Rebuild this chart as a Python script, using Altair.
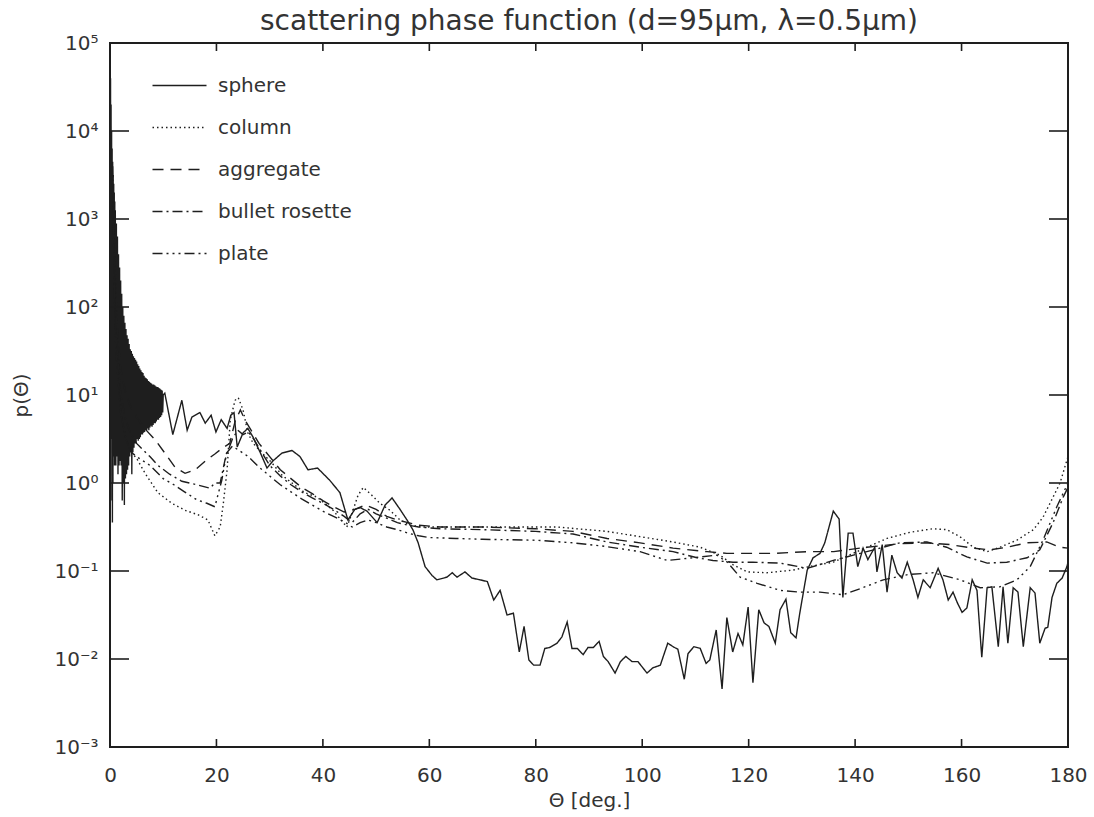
import altair as alt
import pandas as pd

# ---------------- data (log10 of p(theta)) ----------------
sphere_theta = [0.0, 0.05, 0.1, 0.15, 0.2, 0.25, 0.3, 0.35, 0.4, 0.45, 0.5, 0.55, 0.6, 0.65, 0.7,
                0.75, 0.8, 0.85, 0.9, 0.95,
                1.0, 1.1, 1.2, 1.3, 1.4, 1.5, 1.6, 1.7, 1.8, 1.9, 2.0, 2.1, 2.2, 2.3, 2.4, 2.5,
                2.6, 2.7, 2.8, 2.9, 3.0, 3.1, 3.2, 3.3, 3.4, 3.5, 3.6, 3.7, 3.8, 3.9, 4.0, 4.1,
                4.2, 4.3, 4.4, 4.5, 4.6, 4.7, 4.8, 4.9, 5.0, 5.1, 5.2, 5.3, 5.4, 5.5, 5.6, 5.7,
                5.8, 5.9, 6.0, 6.1, 6.2, 6.3, 6.4, 6.5, 6.6, 6.7, 6.8, 6.9, 7.0, 7.1, 7.2, 7.3,
                7.4, 7.5, 7.6, 7.7, 7.8, 7.9, 8.0, 8.1, 8.2, 8.3, 8.4, 8.5, 8.6, 8.7, 8.8, 8.9,
                9.0, 9.1, 9.2, 9.3, 9.4, 9.5, 9.6, 9.7, 9.8, 9.9, 10.0,
                10.3, 11.8, 13.5, 14.5, 15.4, 16.9, 17.9, 19.0, 19.9, 20.9, 22.0, 22.7, 23.3,
                23.9, 25.0, 25.9, 26.8, 28.2, 29.5, 30.6, 32.3, 34.2, 35.7, 37.2, 39.0, 41.3,
                43.2, 44.7, 46.0, 47.0, 48.3, 50.2, 51.7, 53.0, 54.5, 55.8, 56.9, 57.9, 59.2,
                60.5, 61.4, 63.3, 64.3, 65.2, 66.7, 68.0, 69.5, 70.9, 72.1, 73.3, 74.6, 75.8,
                76.9, 77.8, 78.7, 79.6, 80.8, 81.7, 82.6, 84.0, 84.9, 85.9, 86.8, 87.8, 88.9,
                89.8, 90.8, 91.9, 92.7, 93.6, 94.9, 95.9, 96.9, 98.1, 99.2, 100.9, 102.0,
                103.4, 104.8, 105.8, 106.7, 107.9, 108.6, 109.7, 110.9, 112.0, 112.7, 113.9,
                115.0, 115.9, 117.0, 118.0, 118.9, 119.9, 120.8, 121.9, 122.9, 123.8, 125.0,
                125.9, 127.0, 127.9, 128.9, 129.6, 131.0, 132.1, 133.4, 134.3, 135.9, 137.0,
                137.7, 138.7, 139.6, 140.5, 141.5, 142.4, 143.7, 144.1, 145.1, 146.0, 146.9,
                147.9, 148.8, 149.8, 150.9, 151.8, 152.8, 154.1, 155.6, 156.5, 157.5, 158.4,
                159.2, 160.1, 161.0, 162.0, 162.9, 163.8, 164.8, 165.7, 166.9, 167.8, 168.7,
                169.7, 170.6, 171.6, 172.9, 173.8, 174.7, 175.7, 176.2, 177.0, 177.9, 178.9,
                179.8, 180.0]
sphere_logp = [5.0, 3.0, 4.6, 1.0, 4.3, 0.5, 4.0, -0.2, 3.8, -0.45, 3.65, 0.0, 3.5, 0.3, 3.4,
               0.4, 3.3, 0.2, 3.2, 0.35,
               3.1, 0.2, 2.95, 0.3, 2.8, 0.1, 2.6, 0.2, 2.45, 0.25, 2.3, 0.2, 2.15, -0.2, 2.0, 0.0,
               1.9, -0.25, 1.82, 0.05, 1.75, 0.1, 1.68, 0.15, 1.64, 0.2, 1.58, 0.3, 1.52, 0.35, 1.5, 0.1,
               1.47, 0.35, 1.44, 0.4, 1.42, 0.45, 1.4, 0.45, 1.38, 0.5, 1.35, 0.48, 1.33, 0.5, 1.3, 0.52,
               1.28, 0.55, 1.26, 0.55, 1.25, 0.57, 1.22, 0.58, 1.2, 0.6, 1.19, 0.6, 1.18, 0.62, 1.16, 0.6,
               1.15, 0.63, 1.14, 0.65, 1.13, 0.64, 1.12, 0.66, 1.12, 0.68, 1.11, 0.68, 1.1, 0.7, 1.09, 0.72,
               1.09, 0.72, 1.08, 0.74, 1.07, 0.75, 1.06, 0.77, 1.05, 0.8, 1.0,
               1.02, 0.55, 0.94, 0.60, 0.75, 0.80, 0.68, 0.77, 0.58, 0.72, 0.62, 0.77, 0.80,
               0.41, 0.57, 0.62, 0.53, 0.35, 0.17, 0.25, 0.34, 0.37, 0.30, 0.15, 0.17, 0.03,
               -0.11, -0.42, -0.30, -0.28, -0.32, -0.45, -0.25, -0.17, -0.30, -0.42, -0.53, -0.68, -0.95,
               -1.05, -1.10, -1.07, -1.02, -1.07, -1.01, -1.08, -1.10, -1.12, -1.33, -1.22, -1.50, -1.48,
               -1.92, -1.63, -2.01, -2.07, -2.07, -1.88, -1.87, -1.82, -1.75, -1.58, -1.88, -1.88, -1.95,
               -1.87, -1.87, -1.80, -1.97, -2.03, -2.16, -2.03, -1.97, -2.03, -2.03, -2.16, -2.10,
               -2.07, -1.82, -1.86, -1.89, -2.23, -1.94, -1.86, -1.88, -2.05, -2.01, -1.67,
               -2.34, -1.53, -1.92, -1.71, -1.84, -1.41, -2.27, -1.44, -1.59, -1.63, -1.82,
               -1.44, -1.32, -1.70, -1.76, -1.48, -0.99, -0.85, -0.80, -0.68, -0.32, -0.41,
               -1.30, -0.57, -0.57, -0.95, -0.74, -0.87, -0.73, -1.01, -0.70, -1.24, -0.82,
               -1.02, -1.08, -0.90, -1.10, -1.30, -1.10, -1.19, -0.97, -1.10, -1.33, -1.24,
               -1.36, -1.47, -1.42, -1.10, -1.22, -1.98, -1.19, -1.18, -1.86, -1.18, -1.82,
               -1.19, -1.24, -1.86, -1.19, -1.25, -1.82, -1.65, -1.64, -1.30, -1.14, -1.08,
               -0.95, -0.90]

column_theta = [0.5, 1.0, 2.0, 3.0, 4.0, 5.0, 6.6, 9.0, 11.6, 14.1, 16.5, 18.4, 19.7, 20.7, 21.3,
                22.0, 22.6, 23.5, 24.1, 25.0, 25.9, 26.9, 28.6, 30.4, 32.3, 34.2, 36.6, 38.9,
                41.9, 44.5, 45.5, 46.6, 47.6, 49.2, 50.7, 52.6, 54.5, 56.4, 58.8, 64.0, 70.0,
                76.5, 84.0, 93.4, 99.6, 105.8, 110.9, 114.6, 117.1, 119.7, 123.4, 128.3, 132.1,
                135.9, 142.2, 146.0, 150.3, 154.6, 157.2, 159.7, 162.2, 164.8, 167.2, 170.4,
                173.5, 175.3, 177.2, 178.5, 180.0]
column_logp = [3.5, 2.4, 0.8, 0.5, 0.35, 0.28, 0.11, -0.11, -0.23, -0.31, -0.36, -0.42, -0.6, -0.5,
               -0.23, 0.15, 0.72, 0.94, 0.97, 0.83, 0.57, 0.45, 0.34, 0.23, 0.09, 0.0, -0.11, -0.16,
               -0.31, -0.5, -0.34, -0.14, -0.05, -0.14, -0.23, -0.31, -0.42, -0.48, -0.5, -0.5, -0.5,
               -0.5, -0.5, -0.55, -0.61, -0.67, -0.73, -0.82, -0.93, -1.01, -1.02, -0.99, -0.94,
               -0.9, -0.73, -0.63, -0.56, -0.52, -0.53, -0.61, -0.73, -0.78, -0.73, -0.65,
               -0.53, -0.39, -0.16, 0.0, 0.3]

aggregate_theta = [0.5, 1.0, 2.0, 3.0, 4.0, 5.0, 6.5, 8.5, 10.3, 12.2, 14.1, 16.0, 17.9, 19.7, 21.2,
                   22.5, 23.5, 24.5, 25.5, 26.5, 28.0, 30.0, 32.0, 34.0, 36.0, 38.0, 40.0, 42.0,
                   44.0, 46.0, 48.0, 50.0, 52.0, 54.0, 56.0, 58.0, 62.0, 70.0, 80.0, 87.0, 93.4,
                   99.6, 105.8, 112.2, 115.9, 120.8, 124.6, 131.0, 136.0, 142.2, 148.4, 153.5,
                   157.8, 162.2, 165.3, 168.5, 172.3, 176.0, 178.5, 180.0]
aggregate_logp = [3.6, 2.0, 1.3, 1.0, 0.85, 0.75, 0.62, 0.49, 0.34, 0.18, 0.11, 0.15, 0.25, 0.33, 0.4,
                  0.45, 0.7, 0.83, 0.7, 0.6, 0.45, 0.3, 0.15, 0.05, -0.05, -0.12, -0.2, -0.27,
                  -0.33, -0.3, -0.25, -0.3, -0.38, -0.42, -0.45, -0.48, -0.5, -0.5, -0.52, -0.55, -0.63,
                  -0.68, -0.74, -0.78, -0.8, -0.8, -0.8, -0.78, -0.78, -0.73, -0.69, -0.68,
                  -0.7, -0.74, -0.76, -0.73, -0.68, -0.67, -0.73, -0.74]

bullet_theta = [0.5, 1.0, 2.0, 3.0, 4.0, 5.0, 7.5, 9.0, 11.2, 13.5, 16.3, 18.8, 19.7, 20.7, 21.6,
                22.2, 23.0, 24.0, 25.0, 26.0, 27.0, 28.5, 30.0, 32.0, 34.0, 36.0, 38.0, 40.0,
                42.0, 44.0, 45.5, 47.0, 48.5, 50.0, 52.0, 54.0, 56.0, 58.0, 62.0, 70.0, 80.0,
                87.0, 93.4, 99.6, 105.8, 110.3, 113.3, 117.1, 120.8, 125.9, 131.0, 135.9,
                142.2, 148.4, 153.5, 157.2, 161.0, 164.8, 168.5, 172.3, 174.7, 177.2, 179.1, 180.0]
bullet_logp = [3.4, 1.8, 1.0, 0.7, 0.55, 0.45, 0.3, 0.2, 0.1, 0.02, -0.02, -0.06, 0.0, 0.0, 0.26,
               0.37, 0.5, 0.6, 0.55, 0.58, 0.5, 0.35, 0.2, 0.08, -0.02, -0.1, -0.17, -0.23,
               -0.3, -0.38, -0.45, -0.35, -0.3, -0.35, -0.4, -0.45, -0.48, -0.5, -0.52, -0.53, -0.55,
               -0.58, -0.67, -0.73, -0.78, -0.85, -0.88, -0.9, -0.9, -0.91, -0.97, -0.88,
               -0.78, -0.68, -0.67, -0.73, -0.84, -0.91, -0.9, -0.85, -0.76, -0.45, -0.16, -0.05]

plate_theta = [0.5, 1.0, 2.0, 3.0, 4.0, 5.0, 7.5, 10.0, 12.0, 14.0, 16.3, 18.2, 19.7, 21.0, 21.9,
               23.0, 24.0, 26.0, 28.0, 30.0, 32.0, 34.0, 36.0, 38.0, 40.0, 42.0, 44.0, 45.5,
               47.0, 48.5, 50.0, 52.0, 54.0, 56.0, 58.0, 60.0, 65.0, 70.0, 80.0, 87.0, 93.0,
               99.6, 104.7, 109.5, 114.0, 116.0, 118.4, 121.6, 125.9, 129.6, 133.4, 137.7,
               141.0, 145.3, 150.0, 154.7, 159.7, 163.5, 167.2, 170.4, 172.9, 175.3, 177.9, 180.0]
plate_logp = [3.3, 1.6, 0.8, 0.5, 0.35, 0.3, 0.2, 0.05, -0.02, -0.1, -0.19, -0.23, -0.27, 0.03, 0.34,
              0.42, 0.38, 0.3, 0.18, 0.08, -0.02, -0.1, -0.18, -0.25, -0.32, -0.38, -0.44, -0.5,
              -0.45, -0.42, -0.45, -0.5, -0.53, -0.57, -0.6, -0.62, -0.63, -0.64, -0.65, -0.68, -0.72,
              -0.78, -0.88, -0.85, -0.82, -0.9, -1.07, -1.14, -1.22, -1.24, -1.24, -1.27,
              -1.2, -1.10, -1.04, -1.02, -1.10, -1.19, -1.18, -1.10, -0.95, -0.65, -0.27, 0.0]

shape_names = ["sphere", "column", "aggregate", "bullet rosette", "plate"]
dash_styles = [[1, 0], [1.5, 3], [11, 7], [10, 4, 2, 4], [10, 4, 2, 4, 2, 4, 2, 4]]

x_ticks = [20, 40, 60, 80, 100, 120, 140, 160]
x_labels = [0, 20, 40, 60, 80, 100, 120, 140, 160, 180]
y_inner_ticks = [1e4, 1e3, 1e2, 1e1, 1e0, 1e-1, 1e-2]
y_labels = [1e-3, 1e-2, 1e-1, 1e0, 1e1, 1e2, 1e3, 1e4, 1e5]

# ---------------- build table ----------------
rows = []
for name, th, lp in zip(shape_names,
                        [sphere_theta, column_theta, aggregate_theta, bullet_theta, plate_theta],
                        [sphere_logp, column_logp, aggregate_logp, bullet_logp, plate_logp]):
    for i, (t, v) in enumerate(zip(th, lp)):
        rows.append({"theta": t, "p": 10.0 ** v, "shape": name, "idx": i})
df = pd.DataFrame(rows)

W, H = 958, 704
FONT = "DejaVu Sans"
TXT = "#333333"
INK = "#1e1e1e"

xscale = alt.Scale(domain=[0, 180], nice=False, zero=False)
yscale = alt.Scale(type="log", domain=[1e-3, 1e5], nice=False)

sup_expr = ("'10' + (round(log(datum.value)/LN10) < 0 ? '\u207b' : '') + "
            "['\u2070','\u00b9','\u00b2','\u00b3','\u2074','\u2075'][abs(round(log(datum.value)/LN10))]")

x_axis = alt.Axis(values=x_labels, title="\u0398 [deg.]", grid=False, ticks=False,
                  tickSize=0, domain=False, labelFontSize=20, labelFont=FONT,
                  labelColor=TXT, labelPadding=18, titleFontSize=20, titleFont=FONT,
                  titleColor=TXT, titleFontWeight="normal", titlePadding=5,
                  labelFlush=False, labelOverlap=False)
y_axis = alt.Axis(values=y_labels, labelExpr=sup_expr, title="p(\u0398)", grid=False,
                  ticks=False, tickSize=0, domain=False, labelFontSize=20,
                  labelFont=FONT, labelColor=TXT, labelPadding=12, titleFontSize=20,
                  titleFont=FONT, titleColor=TXT, titleFontWeight="normal",
                  titlePadding=22, labelFlush=False, labelOverlap=False)

lines = alt.Chart(df).mark_line(strokeWidth=1.4, color=INK, clip=True).encode(
    x=alt.X("theta:Q", scale=xscale, axis=x_axis),
    y=alt.Y("p:Q", scale=yscale, axis=y_axis),
    strokeDash=alt.StrokeDash("shape:N", scale=alt.Scale(domain=shape_names, range=dash_styles),
                              legend=alt.Legend(title=None, orient="none", legendX=55, legendY=28,
                                                symbolType="M-2,0L2,0", symbolSize=729,
                                                symbolStrokeWidth=1.4, symbolStrokeColor=INK,
                                                symbolFillColor="transparent",
                                                labelFontSize=20, labelFont=FONT, labelColor=TXT,
                                                labelOffset=24, rowPadding=17, padding=0)),
    detail="shape:N",
    order="idx:Q",
)

ytk = pd.DataFrame({"p": y_inner_ticks})
xtk = pd.DataFrame({"theta": x_ticks})
left_ticks = alt.Chart(ytk).mark_rule(color=INK, strokeWidth=1.6).encode(
    y=alt.Y("p:Q", scale=yscale, axis=y_axis), x=alt.value(0), x2=alt.value(19))
right_ticks = alt.Chart(ytk).mark_rule(color=INK, strokeWidth=1.6).encode(
    y=alt.Y("p:Q", scale=yscale, axis=y_axis), x=alt.value(W - 19), x2=alt.value(W))
bottom_ticks = alt.Chart(xtk).mark_rule(color=INK, strokeWidth=1.6).encode(
    x=alt.X("theta:Q", scale=xscale, axis=x_axis), y=alt.value(H - 8), y2=alt.value(H))
top_ticks = alt.Chart(xtk).mark_rule(color=INK, strokeWidth=1.6).encode(
    x=alt.X("theta:Q", scale=xscale, axis=x_axis), y=alt.value(0), y2=alt.value(8))

chart = alt.layer(lines, left_ticks, right_ticks, bottom_ticks, top_ticks).properties(
    width=W, height=H,
    background="white",
    title=alt.TitleParams("scattering phase function (d=95\u03bcm, \u03bb=0.5\u03bcm)",
                          fontSize=28, font=FONT, color=TXT, fontWeight="normal",
                          anchor="middle", offset=-3),
    autosize=alt.AutoSizeParams(type="none"),
    padding={"left": 110, "top": 43, "right": 26, "bottom": 70},
).configure_view(stroke=INK, strokeWidth=2)

chart.save("out.html", embed_options={"renderer": "svg", "actions": False})
